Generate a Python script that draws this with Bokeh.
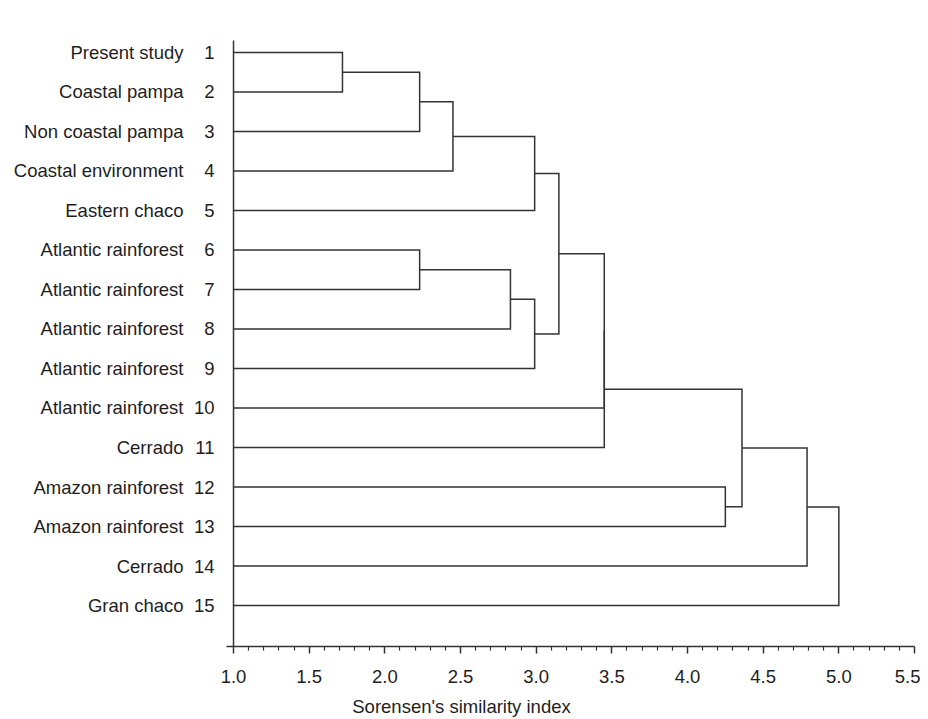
from bokeh.plotting import figure
from bokeh.models import Range1d, FixedTicker, PrintfTickFormatter
from bokeh.core.properties import value
from bokeh.embed import file_html
from bokeh.resources import INLINE

# ---- data ----
site_names = [
    "Present study", "Coastal pampa", "Non coastal pampa", "Coastal environment",
    "Eastern chaco", "Atlantic rainforest", "Atlantic rainforest", "Atlantic rainforest",
    "Atlantic rainforest", "Atlantic rainforest", "Cerrado", "Amazon rainforest",
    "Amazon rainforest", "Cerrado", "Gran chaco",
]
site_numbers = [str(i) for i in range(1, 16)]

# linkage: node ids 0..14 are leaves, 15.. are clusters in merge order
merge_left = [0, 15, 16, 17, 5, 19, 20, 18, 22, 23, 11, 24, 26, 27]
merge_right = [1, 2, 3, 4, 6, 7, 8, 21, 9, 10, 12, 25, 13, 14]
merge_height = [1.72, 2.23, 2.45, 2.99, 2.23, 2.83, 2.99, 3.15, 3.45, 3.45,
                4.25, 4.36, 4.79, 5.00]

x_ticks = [1.0, 1.5, 2.0, 2.5, 3.0, 3.5, 4.0, 4.5, 5.0, 5.5]
x_minor = [round(1.0 + 0.1 * i, 1) for i in range(46) if i % 5]
axis_title = "Sorensen's similarity index"

# ---- styles ----
LINE = "#333333"
TEXT = "#1e1e1e"
FONT = "Liberation Sans"
FS = "18.5px"
base = 1.0
n = len(site_names)
leaf_y = [i + 1 for i in range(n)]

p = figure(width=920, height=719,
           x_range=Range1d(-0.4869, 5.5),
           y_range=Range1d(n + 1.037, -0.112),
           output_backend="svg", toolbar_location=None,
           y_axis_location=None,
           min_border_left=8, min_border_right=6,
           min_border_top=8, min_border_bottom=72)
p.grid.visible = False
p.outline_line_color = None
p.background_fill_color = "white"
p.border_fill_color = "white"

# dendrogram
pos_x = {i: base for i in range(n)}
pos_y = {i: leaf_y[i] for i in range(n)}
xs, ys = [], []
for k, (a, b, h) in enumerate(zip(merge_left, merge_right, merge_height)):
    xs.append([pos_x[a], h, h, pos_x[b]])
    ys.append([pos_y[a], pos_y[a], pos_y[b], pos_y[b]])
    pos_x[n + k] = h
    pos_y[n + k] = (pos_y[a] + pos_y[b]) / 2
p.multi_line(xs=xs, ys=ys, line_color=LINE, line_width=1.5, line_join="miter")

# vertical axis line at x = 1.0
y_top = 0.7
y_bot = n + 1.037
p.segment(x0=[base], y0=[y_top], x1=[base], y1=[y_bot], line_color=LINE, line_width=1.5)

# labels
p.text(x=[base] * n, y=leaf_y, text=site_names, x_offset=-50,
       text_align="right", text_baseline="middle",
       text_font=value(FONT), text_font_size=FS, text_color=TEXT)
p.text(x=[base] * n, y=leaf_y, text=site_numbers, x_offset=-19,
       text_align="right", text_baseline="middle",
       text_font=value(FONT), text_font_size=FS, text_color=TEXT)

# bottom axis
ax = p.xaxis[0]
ax.ticker = FixedTicker(ticks=x_ticks, minor_ticks=x_minor)
ax.formatter = PrintfTickFormatter(format="%.1f")
ax.bounds = (base - 0.046, 5.5)
ax.axis_line_color = LINE
ax.axis_line_width = 1.5
ax.major_tick_line_color = LINE
ax.major_tick_line_width = 1.5
ax.minor_tick_line_color = LINE
ax.minor_tick_line_width = 1.2
ax.major_tick_out = 7
ax.major_tick_in = 0
ax.minor_tick_out = 4
ax.minor_tick_in = 0
ax.major_label_standoff = 16
ax.major_label_text_font = FONT
ax.major_label_text_font_size = FS
ax.major_label_text_color = TEXT
ax.axis_label = axis_title
ax.axis_label_standoff = 10
ax.axis_label_text_font = FONT
ax.axis_label_text_font_size = FS
ax.axis_label_text_font_style = "normal"
ax.axis_label_text_color = TEXT

open("out.html", "w").write(file_html(p, INLINE))
